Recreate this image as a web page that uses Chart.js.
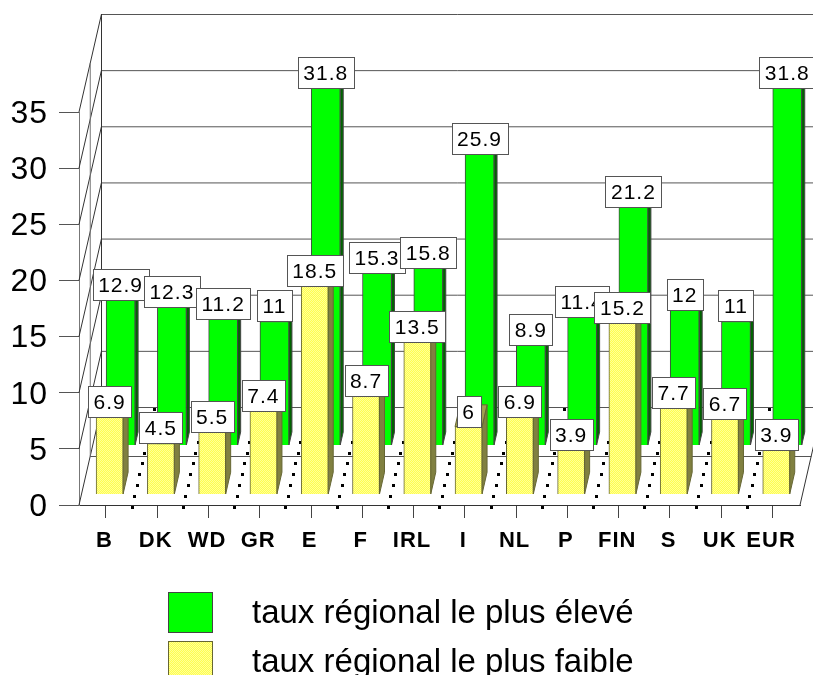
<!DOCTYPE html>
<html lang="fr">
<head>
<meta charset="utf-8">
<title>Taux régionaux</title>
<script src="https://cdn.jsdelivr.net/npm/chart.js@4"></script>
<style>
  html, body { margin: 0; padding: 0; background: #fff; overflow: hidden; }
  canvas { display: block; }
</style>
</head>
<body>
<canvas id="chart" width="813" height="675"></canvas>
<script>
// Categories and series
const pays = ['B', 'DK', 'WD', 'GR', 'E', 'F', 'IRL', 'I', 'NL', 'P', 'FIN', 'S', 'UK', 'EUR'];
const tauxEleve = [12.9, 12.3, 11.2, 11, 31.8, 15.3, 15.8, 25.9, 8.9, 11.4, 21.2, 12, 11, 31.8];
const tauxFaible = [6.9, 4.5, 5.5, 7.4, 18.5, 8.7, 13.5, 6, 6.9, 3.9, 15.2, 7.7, 6.7, 3.9];
const graduations = [0, 5, 10, 15, 20, 25, 30, 35];
const libelleEleve = 'taux régional le plus élevé';
const libelleFaible = 'taux régional le plus faible';

// Projection of the pseudo-3D box, in pixels
const AREA = { left: 79, right: 800, top: 112, bottom: 505 };
const DEPTH = { x: 22.5, y: 98 };
const UNIT = (AREA.bottom - AREA.top) / 35;
const STEP = 51.28;
const FIRST = 105.9;
const LIFT_GREEN = 60;   // height of the rear row above the axis baseline
const LIFT_YELLOW = 11;  // height of the front row above the axis baseline
const SHIFT_GREEN = 14.7;
const SHIFT_YELLOW = 3.7;

const xMin = (AREA.left - FIRST) / STEP;
const xMax = (AREA.right - FIRST) / STEP;

function yellowPattern(ctx) {
  const c = document.createElement('canvas');
  c.width = c.height = 2;
  const p = c.getContext('2d');
  p.fillStyle = '#ffff4d';
  p.fillRect(0, 0, 2, 2);
  p.fillStyle = '#ffff99';
  p.fillRect(0, 0, 1, 1);
  p.fillRect(1, 1, 1, 1);
  return ctx.createPattern(c, 'repeat');
}

const canvas = document.getElementById('chart');
const ctx = canvas.getContext('2d');
const yellowFill = yellowPattern(ctx);

function rowSeries(values) {
  return values.map((v, i) => ({ x: i, y: v }));
}

const boxPlugin = {
  id: 'box3d',
  beforeDraw(chart) {
    chart.ctx.letterSpacing = '1px';
  },
  // Walls, gridlines and dotted floor behind the bars
  beforeDatasetsDraw(chart) {
    const c = chart.ctx, y = chart.scales.y, x = chart.scales.x;
    c.save();
    c.lineWidth = 1;
    const line = (x1, y1, x2, y2, color) => {
      c.strokeStyle = color;
      c.beginPath();
      c.moveTo(x1, y1);
      c.lineTo(x2, y2);
      c.stroke();
    };
    const bx = AREA.left + DEPTH.x;
    const midX = AREA.left + DEPTH.x / 2;
    const base = y.getPixelForValue(0);
    graduations.forEach(v => {
      const py = y.getPixelForValue(v);
      line(AREA.left, py, bx, py - DEPTH.y, '#333');
      line(bx, py - DEPTH.y + 0.5, 813, py - DEPTH.y + 0.5, '#555');
    });
    line(midX, base - DEPTH.y / 2, midX, y.getPixelForValue(35) - DEPTH.y / 2, '#777');
    line(bx, base - DEPTH.y, bx, y.getPixelForValue(35) - DEPTH.y, '#333');
    line(midX, base - DEPTH.y / 2 + 0.5, AREA.right + DEPTH.x / 2, base - DEPTH.y / 2 + 0.5, '#555');
    line(AREA.right, base, AREA.right + DEPTH.x, base - DEPTH.y, '#333');

    // Dotted floor lines between the categories
    c.fillStyle = '#000';
    for (let i = 0; i < pays.length - 1; i++) {
      const fx = x.getPixelForValue(i + 0.5);
      for (let k = 0; k <= 9; k++) {
        const t = k / 9;
        c.fillRect(Math.round(fx + t * DEPTH.x - 1), Math.round(base + 2 - t * DEPTH.y - 1), 3, 3);
      }
    }
    c.restore();
  },
  beforeDatasetDraw(chart, args) {
    // Side and top faces, under the front face of each bar
    const meta = chart.getDatasetMeta(args.index);
    const ds = chart.data.datasets[args.index];
    const c = chart.ctx;
    const dx = ds.faceDepth, dy = dx * DEPTH.y / DEPTH.x;
    c.save();
    c.lineWidth = 1;
    meta.data.forEach(bar => {
      const r = bar.x + bar.width / 2, l = bar.x - bar.width / 2;
      c.fillStyle = ds.sideColor;
      c.strokeStyle = ds.borderColor;
      c.beginPath();
      c.moveTo(r, bar.base);
      c.lineTo(r + dx, bar.base - dy);
      c.lineTo(r + dx, bar.y - dy);
      c.lineTo(r, bar.y);
      c.closePath();
      c.fill();
      c.stroke();
      c.fillStyle = ds.topColor;
      c.beginPath();
      c.moveTo(l, bar.y);
      c.lineTo(l + dx, bar.y - dy);
      c.lineTo(r + dx, bar.y - dy);
      c.lineTo(r, bar.y);
      c.closePath();
      c.fill();
      c.stroke();
    });
    c.restore();
  },
  afterDatasetsDraw(chart) {
    // Boxed value labels, rear row first so the front row sits over it
    const c = chart.ctx;
    c.save();
    c.font = '21px "Liberation Sans", Arial, sans-serif';
    c.letterSpacing = '1px';
    c.textAlign = 'center';
    c.textBaseline = 'middle';
    chart.data.datasets.forEach((ds, di) => {
      chart.getDatasetMeta(di).data.forEach((bar, i) => {
        const text = String(ds.data[i].y);
        const w = Math.round(c.measureText(text).width + 11);
        const h = 31;
        const left = Math.round(bar.x - w / 2) + 0.5;
        const top = Math.round(bar.y - h) + 0.5;
        c.fillStyle = '#fff';
        c.strokeStyle = '#555';
        c.lineWidth = 1;
        c.fillRect(left, top, w, h);
        c.strokeRect(left, top, w, h);
        c.fillStyle = '#000';
        c.fillText(text, bar.x, top + h / 2 + 1);
      });
    });
    c.restore();
  },
  afterDraw(chart) {
    // Key below the axis
    const c = chart.ctx;
    const rows = [
      { top: 592, baseline: 623 },
      { top: 641, baseline: 672 }
    ];
    c.save();
    c.font = '33px "Liberation Sans", Arial, sans-serif';
    c.letterSpacing = '0px';
    c.textAlign = 'left';
    c.textBaseline = 'alphabetic';
    chart.data.datasets.forEach((ds, i) => {
      c.fillStyle = ds.backgroundColor;
      c.strokeStyle = ds.borderColor;
      c.lineWidth = 1;
      c.fillRect(168.5, rows[i].top + 0.5, 44, 40);
      c.strokeRect(168.5, rows[i].top + 0.5, 44, 40);
      c.fillStyle = '#000';
      c.fillText(ds.label, 252, rows[i].baseline);
    });
    c.restore();
  }
};

new Chart(ctx, {
  type: 'bar',
  plugins: [boxPlugin],
  data: {
    datasets: [
      {
        label: libelleEleve,
        data: rowSeries(tauxEleve),
        xAxisID: 'xGreen',
        yAxisID: 'yGreen',
        order: 2,
        clip: false,
        barThickness: 29,
        backgroundColor: '#00ff00',
        borderColor: '#444',
        borderWidth: 1,
        sideColor: '#006400',
        topColor: '#00a000',
        faceDepth: 3
      },
      {
        label: libelleFaible,
        data: rowSeries(tauxFaible),
        xAxisID: 'xYellow',
        yAxisID: 'yYellow',
        order: 1,
        clip: false,
        barThickness: 27,
        backgroundColor: yellowFill,
        borderColor: '#666633',
        borderWidth: 1,
        sideColor: '#808040',
        topColor: '#a0a050',
        faceDepth: 5
      }
    ]
  },
  options: {
    responsive: false,
    animation: false,
    events: [],
    layout: { autoPadding: false, padding: { top: AREA.top, right: 813 - AREA.right, left: 0, bottom: 0 } },
    plugins: { legend: { display: false }, tooltip: { enabled: false } },
    datasets: { bar: { grouped: false } },
    scales: {
      x: {
        type: 'linear',
        offset: false,
        min: xMin,
        max: xMax,
        afterBuildTicks(scale) { scale.ticks = pays.map((_, i) => ({ value: i })); },
        afterFit(scale) { scale.height = 675 - AREA.bottom; },
        grid: { offset: false, drawOnChartArea: false, color: '#444', tickLength: 13, lineWidth: 1 },
        border: { color: '#333' },
        ticks: {
          autoSkip: false,
          maxRotation: 0,
          padding: 10,
          labelOffset: -1.5,
          color: '#000',
          font: { family: '"Liberation Sans", Arial, sans-serif', size: 22, weight: 'bold' },
          callback: v => pays[v]
        }
      },
      y: {
        min: 0,
        max: 35,
        afterFit(scale) { scale.width = AREA.left; },
        afterBuildTicks(scale) { scale.ticks = graduations.map(v => ({ value: v })); },
        grid: { drawOnChartArea: false, color: '#555', tickLength: 20, lineWidth: 1 },
        border: { color: '#777' },
        ticks: {
          padding: 11,
          labelOffset: 2,
          color: '#000',
          font: { family: '"Liberation Sans", Arial, sans-serif', size: 32 }
        }
      },
      // Hidden scales place each bar row on its own depth plane
      xGreen: { type: 'linear', offset: false, display: false, min: xMin - SHIFT_GREEN / STEP, max: xMax - SHIFT_GREEN / STEP },
      xYellow: { type: 'linear', offset: false, display: false, min: xMin - SHIFT_YELLOW / STEP, max: xMax - SHIFT_YELLOW / STEP },
      yGreen: { display: false, min: -LIFT_GREEN / UNIT, max: 35 - LIFT_GREEN / UNIT },
      yYellow: { display: false, min: -LIFT_YELLOW / UNIT, max: 35 - LIFT_YELLOW / UNIT }
    }
  }
});
</script>
</body>
</html>
